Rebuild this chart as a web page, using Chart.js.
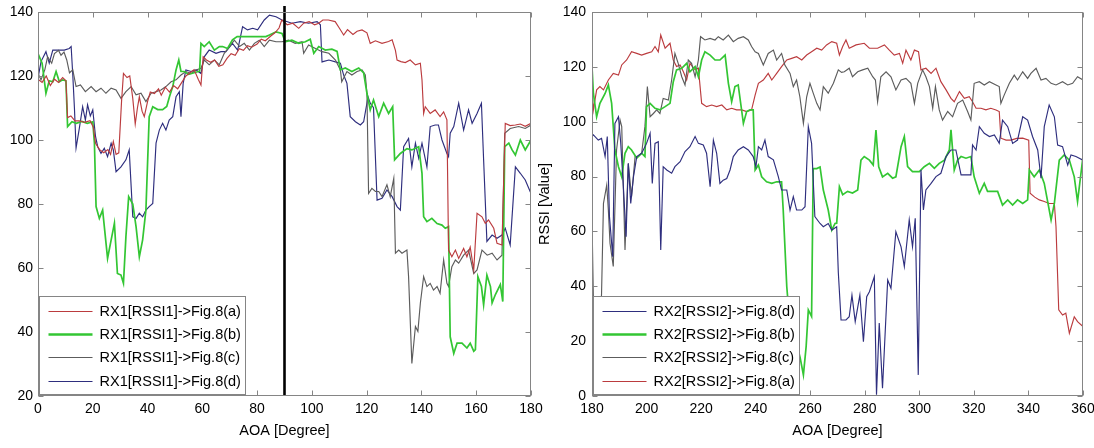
<!DOCTYPE html>
<html>
<head>
<meta charset="utf-8">
<script src="https://cdn.jsdelivr.net/npm/chart.js@4/dist/chart.umd.min.js"></script>
<style>
html,body{margin:0;padding:0;background:#fff;overflow:hidden;width:1094px;height:448px;}
#wl{position:absolute;left:0;top:0;width:545px;height:448px;}
#wr{position:absolute;left:536px;top:0;width:558px;height:448px;}
</style>
</head>
<body>
<div id="wl"><canvas id="cl"></canvas></div>
<div id="wr"><canvas id="cr"></canvas></div>
<script>
// ---------- tick labels ----------
const xTicksLeft = [0, 20, 40, 60, 80, 100, 120, 140, 160, 180];
const yTicksLeft = [20, 40, 60, 80, 100, 120, 140];
const xTicksRight = [180, 200, 220, 240, 260, 280, 300, 320, 340, 360];
const yTicksRight = [0, 20, 40, 60, 80, 100, 120, 140];
const markerAOA = 90;
const xTitle = 'AOA [Degree]';
const yTitle = 'RSSI [Value]';

// ---------- legend labels ----------
const labelsLeft = ['RX1[RSSI1]->Fig.8(a)', 'RX1[RSSI1]->Fig.8(b)', 'RX1[RSSI1]->Fig.8(c)', 'RX1[RSSI1]->Fig.8(d)'];
const labelsRight = ['RX2[RSSI2]->Fig.8(d)', 'RX2[RSSI2]->Fig.8(b)', 'RX2[RSSI2]->Fig.8(c)', 'RX2[RSSI2]->Fig.8(a)'];

// ---------- RX1 series [AOA, RSSI] ----------
const rx1a = [[0,119],[1.5,118],[3,120],[4.5,117],[6,119],[7.5,118],[9,119.5],[10.2,118.5],[10.8,107],[12,107.5],[13.5,106],[15,106],[17,105.5],[19,106],[20.2,104],[21,99],[22.5,97],[24,96],[25.5,97],[26.5,95.5],[27.5,99.5],[28.5,95.5],[29.5,96],[30.5,112],[31.2,120.8],[32.5,119.5],[33.5,120],[34.6,113],[35.5,105],[36.3,110],[37,113.5],[38,109],[38.8,107.3],[40,112],[41,115],[42.5,114.5],[44,116],[45,114],[46.5,116.5],[48,115],[49.5,117],[51,116],[52.5,118],[54,120],[55.5,121],[57,122],[58.5,119],[59.5,117.2],[60.3,126],[61.5,125],[63,124.3],[64.5,125],[66,123],[67.5,123.5],[69,125.5],[70.5,127],[72,126.5],[73.5,128.5],[75,128],[76.5,129.5],[78,129],[80,130],[81.5,131.5],[83,131],[85,132.5],[86.5,133.5],[88,135],[89,137.5],[91,136],[93,136.5],[95.2,134.9],[97,136.5],[99,137],[101,136],[102.5,136.5],[104,137.5],[106,137.5],[108.5,137],[110,135],[111.6,132.8],[113,134.5],[115,133],[116.5,134],[118.3,134.4],[120.1,133.5],[121.3,130.2],[123.2,131],[125.6,130.2],[128,130.8],[129.3,131.3],[130.5,128],[131.1,125],[132.5,124.5],[134.1,124.2],[135.9,125],[137.8,123.5],[139.6,124],[140.2,118.8],[140.8,108.3],[141.4,110.4],[143.2,108.3],[145,109.4],[146.8,107.3],[148.1,108.8],[149.3,106.3],[149.9,65.6],[151.1,63.5],[152.4,65.6],[153.6,63],[155.4,66.1],[156.6,63.5],[157.8,66.5],[159.1,59.4],[160.3,77.1],[162.1,76],[163.3,74],[164.5,75],[166.4,72.4],[167.6,67.7],[169.4,67.2],[170.6,105.2],[172.4,104.5],[174.3,104.7],[176.1,105],[177.9,104.3],[180,105.2]];
const rx1b = [[0,127],[1.5,124],[2.9,114.6],[4.1,118.5],[5.4,118.2],[6.6,121.4],[7.8,118.2],[9,118.8],[10.2,118.5],[10.8,104.2],[12.4,105.7],[14,105.2],[16,105.8],[18,105.2],[20,105.7],[20.6,99],[21.2,79.2],[22.4,75.5],[23.6,78.1],[25.4,63],[27.9,74],[29,58.3],[30.3,57.8],[31.2,55.2],[32.1,69.8],[33.1,82.3],[34.6,80],[35.8,72.9],[37,63.5],[38.2,68.8],[39.4,78.1],[40.6,107.3],[41.9,110.4],[43.7,109.5],[45.5,109.5],[47,110.5],[48,113.5],[49.2,116.7],[50.4,121.9],[51.4,125],[52.2,121.4],[53.4,121.4],[55,120.5],[57,121],[59,121.5],[59.5,130.2],[60.7,129.2],[62.5,130.7],[64.4,128.1],[66.2,129.2],[67.4,129.2],[69.2,128.6],[71,131.3],[72.7,132.3],[75,132.3],[78,132.3],[81,132.3],[83.2,132.3],[84.5,132.8],[86.9,133.8],[89.1,133.3],[90.3,130.7],[92.7,131.2],[95.2,130.2],[97.6,130.7],[99.4,131.5],[100.7,127.1],[102.5,129.2],[104.9,128.1],[107.3,128.4],[109.2,127.7],[110.4,121.9],[112.2,122.5],[114.6,121.4],[117.1,122.5],[118.9,121],[120.1,114.6],[121.3,109.4],[122.5,112.5],[124.4,107.3],[126.2,111.5],[128,108.3],[129.5,110.4],[130.2,93.8],[132.3,95.8],[134.7,97.3],[136.5,96.9],[139,97.9],[140.2,89.6],[140.8,76],[142,74.5],[143.8,75.5],[145.7,73.9],[147.5,73.4],[148.7,72.4],[149.9,72.9],[150.5,38.5],[151.8,33.3],[153,36.5],[154.8,36.5],[156.6,35],[157.8,36.5],[159.1,34],[159.7,34.5],[160.6,57.3],[161.9,54.2],[162.7,48.5],[163.9,57.8],[165.2,54.2],[165.8,49.1],[167,51.7],[168.8,54.8],[169.7,49.5],[170.4,97.9],[171.9,99],[173.1,96.9],[174.3,95.3],[176.1,100],[177.9,96.9],[180,100]];
const rx1c = [[0,120.8],[1.1,118.8],[2.5,122],[3.5,126],[5,124],[6,127],[7.5,128],[8.4,126.5],[9.5,127.5],[10.5,125],[11.5,121],[12.7,121.9],[13.9,116.7],[15.5,117.2],[17.3,115.1],[19.4,116.7],[21.2,115.1],[23,116.2],[24.8,114.6],[26.7,116.2],[28.5,115.6],[30.3,113],[32.1,115.1],[34,116.7],[35.8,114.1],[37.6,114.6],[39.4,112],[41.3,114.6],[43.1,115.1],[44.9,115.6],[46.7,116.7],[48.6,118.2],[50.4,118.8],[52.2,120.3],[54,121.4],[55.9,120.8],[57.7,121.9],[59.5,122.4],[60.7,125],[62.5,123.5],[64.4,125],[66.2,123.5],[68,127.1],[69.9,129.2],[71.7,131.2],[73.6,129.2],[75.3,130.2],[77.2,128.1],[79,130.2],[80.8,131.2],[82.6,129.2],[84.5,131.2],[86.9,130.7],[89.1,130.7],[91.5,131.2],[93.9,130.2],[96.4,130.7],[97,127.1],[98.8,129.7],[101.3,128.6],[103.7,127.6],[106.2,127.1],[108.6,125],[110.4,121.9],[110.9,118.2],[112.8,121.4],[114.6,120.3],[116.5,121.4],[118.3,121.9],[119.5,120.3],[120.1,114.6],[120.7,83.3],[121.9,84.9],[123.2,83.9],[124.4,83.9],[125.6,82.3],[127.4,86],[128.6,82.3],[129.9,88],[130.5,64.6],[131.7,65.6],[132.9,64.6],[134.7,65.6],[135.3,57.3],[136.5,30.2],[137.8,41.7],[138.7,40.2],[139.6,49],[140.8,57.3],[142,54.2],[143.2,55.2],[144.4,53.1],[145.7,54.2],[146.8,52.1],[148.1,62.5],[149.3,55.2],[149.9,54.2],[151.1,60.4],[152.4,62.5],[153.6,61.5],[155.4,64],[157.2,65.6],[159.1,58.3],[160.3,59.4],[162.1,65.6],[164,64],[165.8,64.6],[167.6,62.5],[169.4,64],[170.4,102.1],[172.4,103.6],[175.5,104.2],[177.9,103.6],[180,104.7]];
const rx1d = [[0,119.3],[1.1,124.5],[2.9,127.6],[4.1,124],[5.4,128.1],[7.8,128.1],[9.6,128.1],[11.4,128.6],[12.1,129.2],[12.7,120.3],[13.3,110],[13.9,97.5],[15.1,103.7],[16.3,110.4],[17.3,106.2],[18.1,111],[19.1,107.5],[20,109.4],[21,101.1],[21.8,97.9],[23,95.8],[24.2,97.4],[25.4,94.8],[26.7,99],[27.5,96.9],[28.5,90.1],[30.3,91.6],[32.1,93.8],[33.3,96.9],[34.6,76],[35.8,75.5],[37,77.1],[38.2,76],[39.4,78.1],[40.6,79.2],[41.9,80.2],[43.1,99],[44.3,103.1],[45.5,105.2],[46.7,103.1],[47.9,106.2],[49.2,107.3],[50.4,113.5],[51.6,115.1],[52.2,107.3],[53,117.7],[54,121.9],[55.9,121.4],[57.7,121.9],[59.5,120.8],[60.7,126],[62.5,128.1],[65,127.1],[66.8,127.6],[68.6,127.6],[71,130.2],[72.9,128.1],[74.7,135.4],[76.5,134.4],[78.4,134.9],[80.2,134.4],[82.6,137.5],[84.5,139],[86.9,138.5],[89.1,137.5],[92.7,136.5],[95.8,137],[98.8,136.5],[101.9,137],[103.1,136],[103.7,124.4],[106.2,125],[108.6,124.4],[110.4,124],[111.6,120.3],[112.8,117.7],[114,107.3],[115.9,105.7],[117.7,104.7],[118.9,105.7],[120.5,113.5],[121.3,111.5],[122.5,110.1],[123.8,81.2],[125.6,81.8],[127.4,84.4],[129.3,82.3],[131.1,79.2],[132.3,78.1],[133.5,97.9],[135.3,100.5],[136.5,91.6],[137.8,99],[139,94.3],[140.2,99],[142,91.6],[143.2,104.2],[145,104.7],[146.2,104.7],[147.5,100],[149.3,95.8],[149.9,94.8],[150.5,102.1],[151.8,104.2],[153.6,111.5],[155.4,103.1],[157.2,109.4],[158.5,105.2],[160.3,108.3],[161.9,111.5],[162.7,93.8],[163.9,68.3],[165.8,70.3],[167.6,69.3],[169.4,70.3],[170.6,72.4],[172.4,67.2],[174.3,91.6],[176.1,89.6],[177.9,87.5],[180,83.3]];

// ---------- RX2 series [AOA, RSSI] ----------
const rx2d = [[180,94.6],[180.5,95.2],[182.3,93.3],[183.5,93.9],[184.8,87.3],[185.6,94.6],[186.4,65.4],[187.6,50.8],[188.4,99.4],[189.7,101.8],[190.5,92.7],[191.5,76.3],[192.5,58.1],[193.3,84.8],[194.2,70.2],[195.2,79.9],[196.4,87.3],[198.2,88.5],[200,92.1],[201.3,95.8],[202.1,77.5],[203.1,92.1],[204.3,92.7],[205.2,53.2],[206.1,83.6],[207.4,82.4],[209.2,81.2],[210.4,83.6],[212.3,85.4],[214.1,89.1],[215.9,90.9],[217.8,94.6],[219,92.1],[220.8,91.5],[222,88.5],[223.3,76.3],[224.5,93.3],[225.7,88.5],[226.9,77.5],[228.1,78.7],[229.4,79.3],[230.6,82.4],[231.8,87.3],[233.6,89.7],[235.5,90.9],[237.3,89.7],[239.1,87.3],[240.1,83.6],[241,90.9],[242.2,89.7],[243.4,93.3],[244.6,87.3],[246.5,86.1],[248.3,80],[249.5,75.1],[251.4,75.1],[252.6,67.8],[253.8,72.7],[255,67.8],[256.9,67.8],[258.1,69],[259.3,98.2],[260.5,92.1],[261.7,65.4],[263.6,62.9],[264.8,61.7],[266.6,62.9],[267.9,60.5],[269.7,61.7],[270.3,45],[271.3,27.7],[273.1,27.7],[274.3,28.9],[275.3,36.8],[276.5,27.1],[278.2,36.8],[279.5,19.8],[280.7,36.2],[281.7,38],[283.5,43.5],[284.3,0.5],[285.3,26.6],[286.5,2.8],[288.4,42.3],[289.6,39.3],[291.4,59.9],[293.3,54.4],[294.5,47.2],[296.3,64.2],[297.5,54.4],[298.5,64.8],[299.6,7.7],[300.6,82.4],[301.5,67.8],[302.4,75.1],[304.3,77.5],[306.1,80],[307.9,81.2],[309.8,87.3],[311.6,89.7],[313.4,89.7],[315.3,80.6],[317.1,80.6],[318.9,80.6],[319.5,91.5],[320.8,89.7],[322,98.2],[323.8,95.8],[325.7,94.6],[327.5,95.2],[329.3,92.1],[330.5,100.6],[332.4,98.2],[334.2,92.1],[336,93.3],[337.9,101.8],[339.7,100.6],[341.5,94.6],[343.4,89.7],[344.6,79.4],[345.8,98.2],[347.6,106.1],[349.5,101.8],[350.7,91.5],[352.5,90.9],[354.4,84.2],[355.6,87.9],[357.4,87.3],[360,86]];
const rx2b = [[180,120.1],[180.5,110.4],[181.7,101.8],[182.9,106.7],[184.8,110.3],[186,113.4],[187.2,106.7],[188.4,89.7],[189.7,83.6],[190.9,79.9],[192.1,88.5],[193.3,90.9],[194.5,89.7],[196.4,86.7],[198.2,88.5],[199.4,87.3],[200,105.5],[201.3,106.7],[203.1,104.9],[204.9,104.3],[206.8,105.5],[208.6,106.7],[209.8,114.6],[211,118.9],[212.9,119.5],[214.7,121.3],[215.9,118.2],[217.8,120.1],[219,116.4],[220.2,122.5],[221.4,125.5],[223.3,124.3],[225.1,122.5],[226.9,122.5],[228.8,124.3],[230,114],[231.2,107.3],[232.4,112.8],[233.6,113.4],[235.5,99.4],[236.7,103.7],[237.9,104.3],[239.1,104.3],[239.8,82.4],[241,84.2],[242.2,79.9],[244,78.1],[245.9,77.5],[247.7,78.1],[249.5,78.1],[250.1,67.8],[251.4,39.9],[252.6,25.3],[253.8,16.8],[255,19.2],[256.3,14],[257.5,7.7],[258.5,18],[259.3,31.4],[260.5,29],[261.1,82.9],[262.4,82.9],[263.6,83.5],[264.8,75.1],[266.6,67.8],[267.9,60.5],[269.1,62.9],[269.7,63],[270.7,76.3],[271.9,73.4],[273.7,74.6],[275.5,74],[277.4,75.1],[278.6,86],[279.8,87.3],[281.7,86],[283.1,84.2],[284.1,97],[285.1,83.6],[286.5,79.9],[288.4,81.2],[290.2,79.4],[291.4,79.9],[293.3,90.9],[294.5,94.6],[295.7,83.6],[297.5,81.8],[300,81.8],[301.8,83.6],[303.7,84.8],[305.5,83],[307.3,84.8],[309.2,86],[311,89.7],[311.6,97],[312.8,82.4],[314,86],[315.3,87.3],[317.1,86.7],[318.9,87.3],[320.1,79.9],[322,73.9],[323.8,77.5],[325,74.6],[326.9,74.6],[328.7,74.6],[330.5,69.6],[332.4,71.5],[334.2,69.6],[336,71.5],[337.9,70.2],[339.7,71.5],[340.3,82.4],[342.1,79.9],[344,82.4],[345.8,77.5],[348.3,64.2],[349.5,70.2],[351.3,86],[353.1,87.9],[355,86],[356.8,79.9],[358,70.9],[360,87.3]];
const rx2c = [[180,64.2],[180.6,30],[181.5,15],[182.8,20],[183.5,37.4],[184.2,70.2],[185.4,76.9],[186,67.8],[186.6,55.7],[187.8,47.2],[189,89.7],[190.3,100.6],[190.9,98.2],[192.1,53.2],[193.3,84.8],[194.5,72.7],[195.8,87.3],[197,87.3],[198.2,88.5],[199.4,98.2],[200.3,112.8],[201.3,101.8],[202.5,103],[203.7,104.3],[204.9,103],[206.1,108.5],[208,107.9],[209.2,115.2],[210.4,124.9],[211.6,121.3],[212.9,116.4],[214.1,113.4],[215.3,122.5],[216.5,121.3],[217.8,116.4],[219,122.5],[219.8,131],[221.4,129.8],[223.3,130.4],[225.1,129.8],[226.3,131],[228.1,129.8],[230,131.6],[231.8,129.2],[233.6,130.4],[235.5,131],[237.3,129.8],[238.5,127.4],[239.8,125.5],[241,124.9],[242.8,120.7],[244.6,124.9],[246.5,126.1],[247.7,122.5],[249.5,124.9],[250.7,120.7],[252.6,117.6],[253.8,112.8],[255,115.2],[256.2,109.1],[257.5,99.4],[258.7,109.1],[259.9,114],[261.1,110.4],[262.4,106.7],[263.6,104.3],[264.8,112.8],[266.6,110.4],[268.5,114],[270.3,118.9],[271.5,118],[272.5,118.2],[274.3,119.5],[275.5,116.4],[277.4,118.2],[279.2,118.9],[281.1,119.5],[282.9,116.4],[283.9,115.2],[284.7,107.3],[285.9,116.4],[287.8,118.2],[289.6,116.4],[291.4,111.6],[293.3,115.2],[295.1,115.8],[296.9,114],[298.2,106.7],[299.4,114],[301.2,118.9],[302.4,116.4],[303.7,112.8],[304.9,104.9],[305.9,112.8],[307.3,104.3],[308.5,100.6],[310.4,103.7],[312.2,101.8],[314,106.7],[315.9,107.9],[317.7,103.7],[318.9,100.6],[320.1,114],[322,114.6],[323.8,113.4],[325.7,114.6],[328.1,113.4],[329.3,112.8],[329.9,106.7],[331.1,109.7],[333,114],[334.8,117],[336,115.2],[337.9,118.2],[339.7,115.8],[340.9,117.6],[342.8,119.5],[344.6,115.2],[346.4,115.8],[348.3,114],[350.1,113.4],[352.5,114.6],[354.4,113.4],[356.2,114],[358,116.4],[360,115.2]];
const rx2a = [[180,112.2],[180.5,104.3],[181.7,111.6],[182.9,112.8],[184.2,111.6],[186,115.2],[187.8,117.6],[189.7,117],[190.9,120.7],[192.7,122.5],[194.5,125.5],[196.4,124.9],[198.2,124.3],[200,124.9],[201.9,125.5],[203.1,127.4],[204.3,125.5],[205.2,131.6],[206.8,126.8],[208.6,128.6],[209.8,122.5],[211,120.1],[212.3,120.7],[213.5,118.2],[214.7,115.2],[215.9,121.3],[217.8,118.9],[219,119.5],[220.2,106.7],[222,105.5],[223.9,106.1],[225.7,105.5],[227.6,106.1],[229.4,104.3],[231.2,104.9],[233,104.3],[234.9,104.3],[236.7,103.7],[238.5,104.3],[239.8,109.7],[241,114],[242.8,115.2],[244.6,117.6],[245.9,115.2],[247.7,117.6],[249.5,120.1],[251.4,122.5],[253.2,123.1],[255,123.7],[256.9,122.5],[258.7,124.3],[260.5,125.5],[262.4,126.8],[264.2,126.1],[266,128],[267.9,129.2],[269.7,128.6],[270.7,124.3],[271.9,127.4],[273.1,129.8],[274.3,126.8],[276.8,128],[279.8,128.6],[281.7,126.8],[284.7,126.8],[287.2,128],[289,126.1],[290.8,124.3],[292.7,124.9],[293.9,121.3],[295.1,126.1],[296.9,122.5],[298.2,126.1],[299.7,125.5],[300.6,118.9],[302.4,119.5],[304.3,117.6],[306.1,119.5],[307.9,114.6],[309.8,111.6],[311.6,108.5],[312.8,107.3],[314.7,111],[316.5,108.5],[318.3,109.1],[319.5,107.3],[320.8,104.9],[322.6,104.9],[324.4,104.3],[326.2,104.9],[328.1,104.3],[329.3,103.7],[329.9,94],[331.8,93.3],[333.6,93.3],[335.7,93.9],[337.9,94],[340.1,93.3],[340.6,73.9],[342.3,72.5],[344,71.5],[345.8,70.9],[347.6,70.2],[349.5,70.2],[350.1,61.7],[351.1,31.4],[352.5,29.5],[353.7,30.2],[355,22.9],[356.8,28.9],[358,27.1],[360,25.3]];

// ---------- styling ----------
const FONT = "'Liberation Sans', Arial, Helvetica, sans-serif";
const COL = { a: '#bb3b3e', b: '#33c633', c: '#5c5c5c', d: '#2e2e7e' };
const AXIS_COL = '#858585';

function toXY(arr) { return arr.map(p => ({ x: p[0], y: p[1] })); }
function ds(label, arr, key) {
  const wide = key === 'b';
  return {
    label, data: toXY(arr), borderColor: COL[key], backgroundColor: COL[key],
    borderWidth: wide ? 1.7 : 1.15, legendWidth: wide ? 2.6 : 1.1,
    pointRadius: 0, tension: 0, fill: false, borderJoinStyle: 'miter'
  };
}

const panelPlugin = {
  id: 'panel',
  afterDatasetsDraw(chart, _args, o) {
    const { ctx, chartArea: a } = chart;
    const xs = chart.scales.x, ys = chart.scales.y;
    ctx.save();
    if (o.marker !== undefined && o.marker !== null) {
      const px = xs.getPixelForValue(o.marker);
      ctx.strokeStyle = '#000'; ctx.lineWidth = 2.6;
      ctx.beginPath(); ctx.moveTo(px, a.top - 6); ctx.lineTo(px, a.bottom); ctx.stroke();
    }
    const L = Math.round(a.left) + 0.5, R = Math.round(a.right) - 0.5;
    const T = Math.round(a.top) + 0.5, B = Math.round(a.bottom) - 0.5;
    ctx.strokeStyle = AXIS_COL; ctx.lineWidth = 1;
    ctx.strokeRect(L, T, R - L, B - T);
    ctx.beginPath();
    xs.ticks.forEach(t => {
      const p = Math.round(xs.getPixelForValue(t.value)) + 0.5;
      ctx.moveTo(p, B); ctx.lineTo(p, B - 5); ctx.moveTo(p, T); ctx.lineTo(p, T + 5);
    });
    ys.ticks.forEach(t => {
      const p = Math.round(ys.getPixelForValue(t.value)) + 0.5;
      ctx.moveTo(L, p); ctx.lineTo(L + 5, p); ctx.moveTo(R, p); ctx.lineTo(R - 5, p);
    });
    ctx.stroke();
    // legend box (bottom-left, inside axes)
    const bw = 206, bh = 98, bx = L + 1, by = B - 1 - bh;
    ctx.fillStyle = '#fff'; ctx.fillRect(bx, by, bw, bh);
    ctx.strokeStyle = AXIS_COL; ctx.lineWidth = 1; ctx.strokeRect(bx, by, bw, bh);
    ctx.font = '14.5px ' + FONT; ctx.textBaseline = 'middle'; ctx.textAlign = 'left';
    chart.data.datasets.forEach((d, i) => {
      const yy = Math.round(by + 14 + i * 23.4) + 0.5;
      ctx.strokeStyle = d.borderColor; ctx.lineWidth = d.legendWidth;
      ctx.beginPath(); ctx.moveTo(bx + 9, yy); ctx.lineTo(bx + 53, yy); ctx.stroke();
      ctx.fillStyle = '#000';
      ctx.fillText(d.label, bx + 60, yy + 0.5);
    });
    ctx.restore();
  }
};

function makeChart(id, datasets, xt, yt, opt) {
  return new Chart(document.getElementById(id), {
    type: 'line',
    data: { datasets },
    options: {
      responsive: true, maintainAspectRatio: false, animation: false, events: [],
      layout: { padding: { top: 12, right: opt.padRight, left: 0, bottom: 0 } },
      plugins: { legend: { display: false }, tooltip: { enabled: false }, panel: { marker: opt.marker } },
      scales: {
        x: {
          type: 'linear', min: xt[0], max: xt[xt.length - 1],
          afterBuildTicks: s => { s.ticks = xt.map(v => ({ value: v })); },
          afterFit: s => { s.height = 52; s.paddingLeft = 0; s.paddingRight = 0; },
          grid: { display: false, drawTicks: false }, border: { display: false },
          ticks: { padding: 5, color: '#000', font: { family: FONT, size: 14 }, maxRotation: 0, autoSkip: false },
          title: { display: true, text: xTitle, color: '#000', font: { family: FONT, size: 14.5 }, padding: { top: 0, bottom: 8 } }
        },
        y: {
          type: 'linear', min: yt[0], max: yt[yt.length - 1],
          afterBuildTicks: s => { s.ticks = yt.map(v => ({ value: v })); },
          afterFit: s => { s.width = opt.yWidth; s.paddingTop = 0; s.paddingBottom = 0; },
          grid: { display: false, drawTicks: false }, border: { display: false },
          ticks: { padding: opt.yPad, color: '#000', font: { family: FONT, size: 14 }, autoSkip: false },
          title: { display: opt.yTitle, text: yTitle, color: '#000', font: { family: FONT, size: 14.5 }, padding: { top: 0, bottom: 0 } }
        }
      }
    },
    plugins: [panelPlugin]
  });
}

makeChart('cl',
  [ds(labelsLeft[0], rx1a, 'a'), ds(labelsLeft[1], rx1b, 'b'), ds(labelsLeft[2], rx1c, 'c'), ds(labelsLeft[3], rx1d, 'd')],
  xTicksLeft, yTicksLeft, { padRight: 14, yWidth: 38, yPad: 5, yTitle: false, marker: markerAOA });

makeChart('cr',
  [ds(labelsRight[0], rx2d, 'd'), ds(labelsRight[1], rx2b, 'b'), ds(labelsRight[2], rx2c, 'c'), ds(labelsRight[3], rx2a, 'a')],
  xTicksRight, yTicksRight, { padRight: 11, yWidth: 56, yPad: 6, yTitle: true, marker: null });
</script>
</body>
</html>
